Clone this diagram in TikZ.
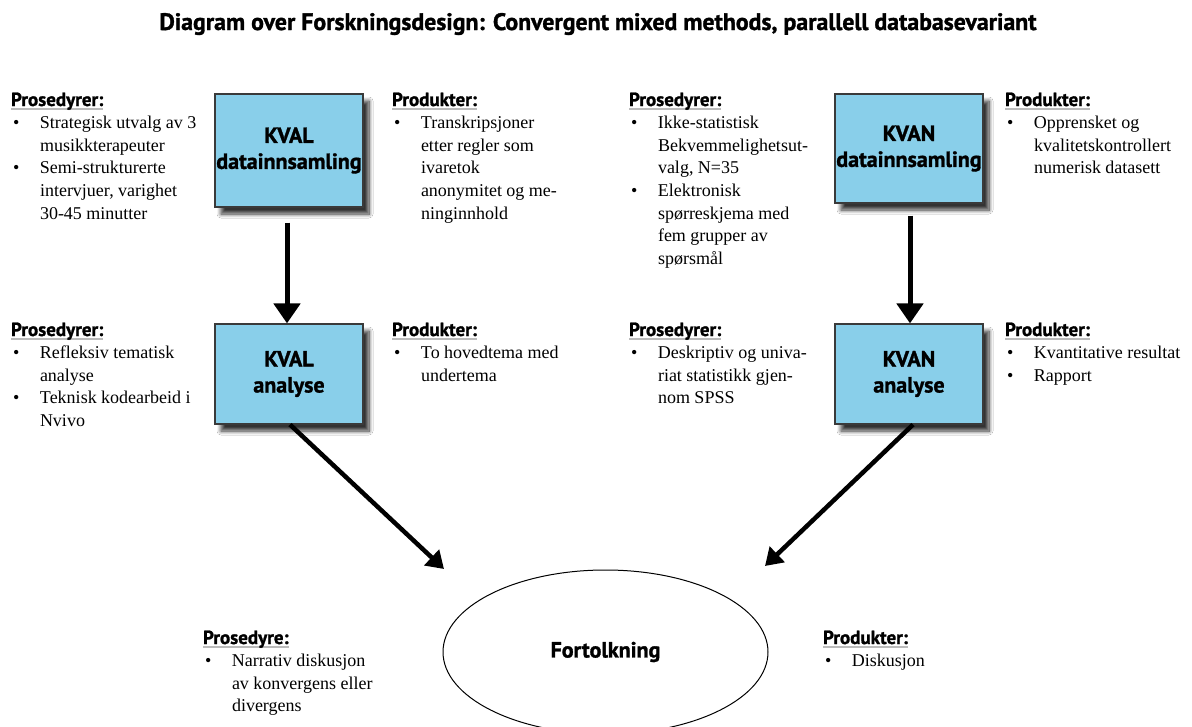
\documentclass[tikz,border=0pt]{standalone}
\usepackage{fontspec}
\setmainfont{Liberation Serif}
\newfontfamily\hdfont{PT Sans}[BoldFeatures={FakeBold=1.3}]
\usetikzlibrary{arrows.meta,shadows.blur,shapes.geometric,calc}
\definecolor{boxblue}{HTML}{89CFEA}
\definecolor{boxedge}{HTML}{3A3A3A}
\definecolor{ulgray}{HTML}{BBBBBB}
\newcommand\hd[1]{\setbox0\hbox{\hdfont\bfseries\fontsize{19}{22}\selectfont #1}\rlap{\color{ulgray}\rule[-3.5pt]{\wd0}{1.2pt}}\box0}
\newcommand\bul{\hspace{2pt}\textbullet}
\newcommand\blk[2]{\fontsize{18}{22.6}\selectfont\begin{tabular}[t]{@{}p{29pt}@{}l@{}}\multicolumn{2}{@{}l@{}}{\hd{#1}}\\#2\end{tabular}}
\tikzset{
  txt/.style={anchor=base west, inner sep=0pt, outer sep=0pt},
  stepbox/.style={draw=boxedge, line width=1.2pt, fill=boxblue, minimum width=148pt,
    inner sep=0pt, align=center, font=\hdfont\bfseries\fontsize{22}{26}\selectfont,
    blur shadow={shadow xshift=6pt, shadow yshift=-7pt, shadow opacity=80, shadow blur steps=10, shadow blur radius=4pt}},
  varr/.style={line width=5pt, -{Triangle[length=20pt,width=26pt]}},
  darr/.style={line width=4.5pt, -{Triangle[length=17pt,width=21pt]}},
}
\begin{document}
\begin{tikzpicture}[x=1pt,y=-1pt]
\useasboundingbox (0,0) rectangle (1192,726);
\clip (0,0) rectangle (1192,726);
\fill[white] (0,0) rectangle (1192,726);

\node[anchor=base, inner sep=0pt, font=\hdfont\bfseries\fontsize{23.8}{26}\selectfont] (title) at (598,30)
  {Diagram over Forskningsdesign: Convergent mixed methods, parallell databasevariant};

% boxes
\node[stepbox, minimum height=113pt] (kvaldata) at (289,150.5) {KVAL\\datainnsamling};
\node[stepbox, minimum height=100pt] (kvalana) at (289,374) {KVAL\\analyse};
\node[stepbox, minimum height=109pt] (kvandata) at (909,148.5) {KVAN\\datainnsamling};
\node[stepbox, minimum height=100pt] (kvanana) at (909,374) {KVAN\\analyse};

\node[draw, ellipse, line width=1pt, minimum width=325pt, minimum height=164pt, inner sep=0pt,
  font=\hdfont\bfseries\fontsize{22}{26}\selectfont] (fort) at (605.5,652) {Fortolkning};

% arrows
\coordinate (lt) at (444,569);
\coordinate (rt) at (765,566);
\draw[varr] ($(kvaldata.south)+(-2,15)$) -- ($(kvalana.north)+(-2,0)$);
\draw[varr] ($(kvandata.south)+(1,12)$) -- ($(kvanana.north)+(1,0)$);
\draw[darr] ($(kvalana.south)+(1,0)$) -- (lt);
\draw[darr] ($(kvanana.south)+(4,0)$) -- (rt);

% text blocks row 1
\node[txt] (p1) at (11,106) {\blk{Prosedyrer:}{\bul & Strategisk utvalg av 3\\ & musikkterapeuter\\ \bul & Semi-strukturerte\\ & intervjuer, varighet\\ & 30-45 minutter}};
\node[txt] (q1) at (392,106) {\blk{Produkter:}{\bul & Transkripsjoner\\ & etter regler som\\ & ivaretok\\ & anonymitet og me-\\ & ninginnhold}};
\node[txt] (p2) at (629,106) {\blk{Prosedyrer:}{\bul & Ikke-statistisk\\ & Bekvemmelighetsut-\\ & valg, N=35\\ \bul & Elektronisk\\ & spørreskjema med\\ & fem grupper av\\ & spørsmål}};
\node[txt] (q2) at (1005,106) {\blk{Produkter:}{\bul & Opprensket og\\ & kvalitetskontrollert\\ & numerisk datasett}};

% row 2
\node[txt] (p3) at (11,336) {\blk{Prosedyrer:}{\bul & Refleksiv tematisk\\ & analyse\\ \bul & Teknisk kodearbeid i\\ & Nvivo}};
\node[txt] (q3) at (392,336) {\blk{Produkter:}{\bul & To hovedtema med\\ & undertema}};
\node[txt] (p4) at (629,336) {\blk{Prosedyrer:}{\bul & Deskriptiv og univa-\\ & riat statistikk gjen-\\ & nom SPSS}};
\node[txt] (q4) at (1005,336) {\blk{Produkter:}{\bul & Kvantitative resultat\\ \bul & Rapport}};

% bottom
\node[txt] (p5) at (203,644) {\blk{Prosedyre:}{\bul & Narrativ diskusjon\\ & av konvergens eller\\ & divergens}};
\node[txt] (q5) at (823,644) {\blk{Produkter:}{\bul & Diskusjon}};
\end{tikzpicture}
\end{document}
